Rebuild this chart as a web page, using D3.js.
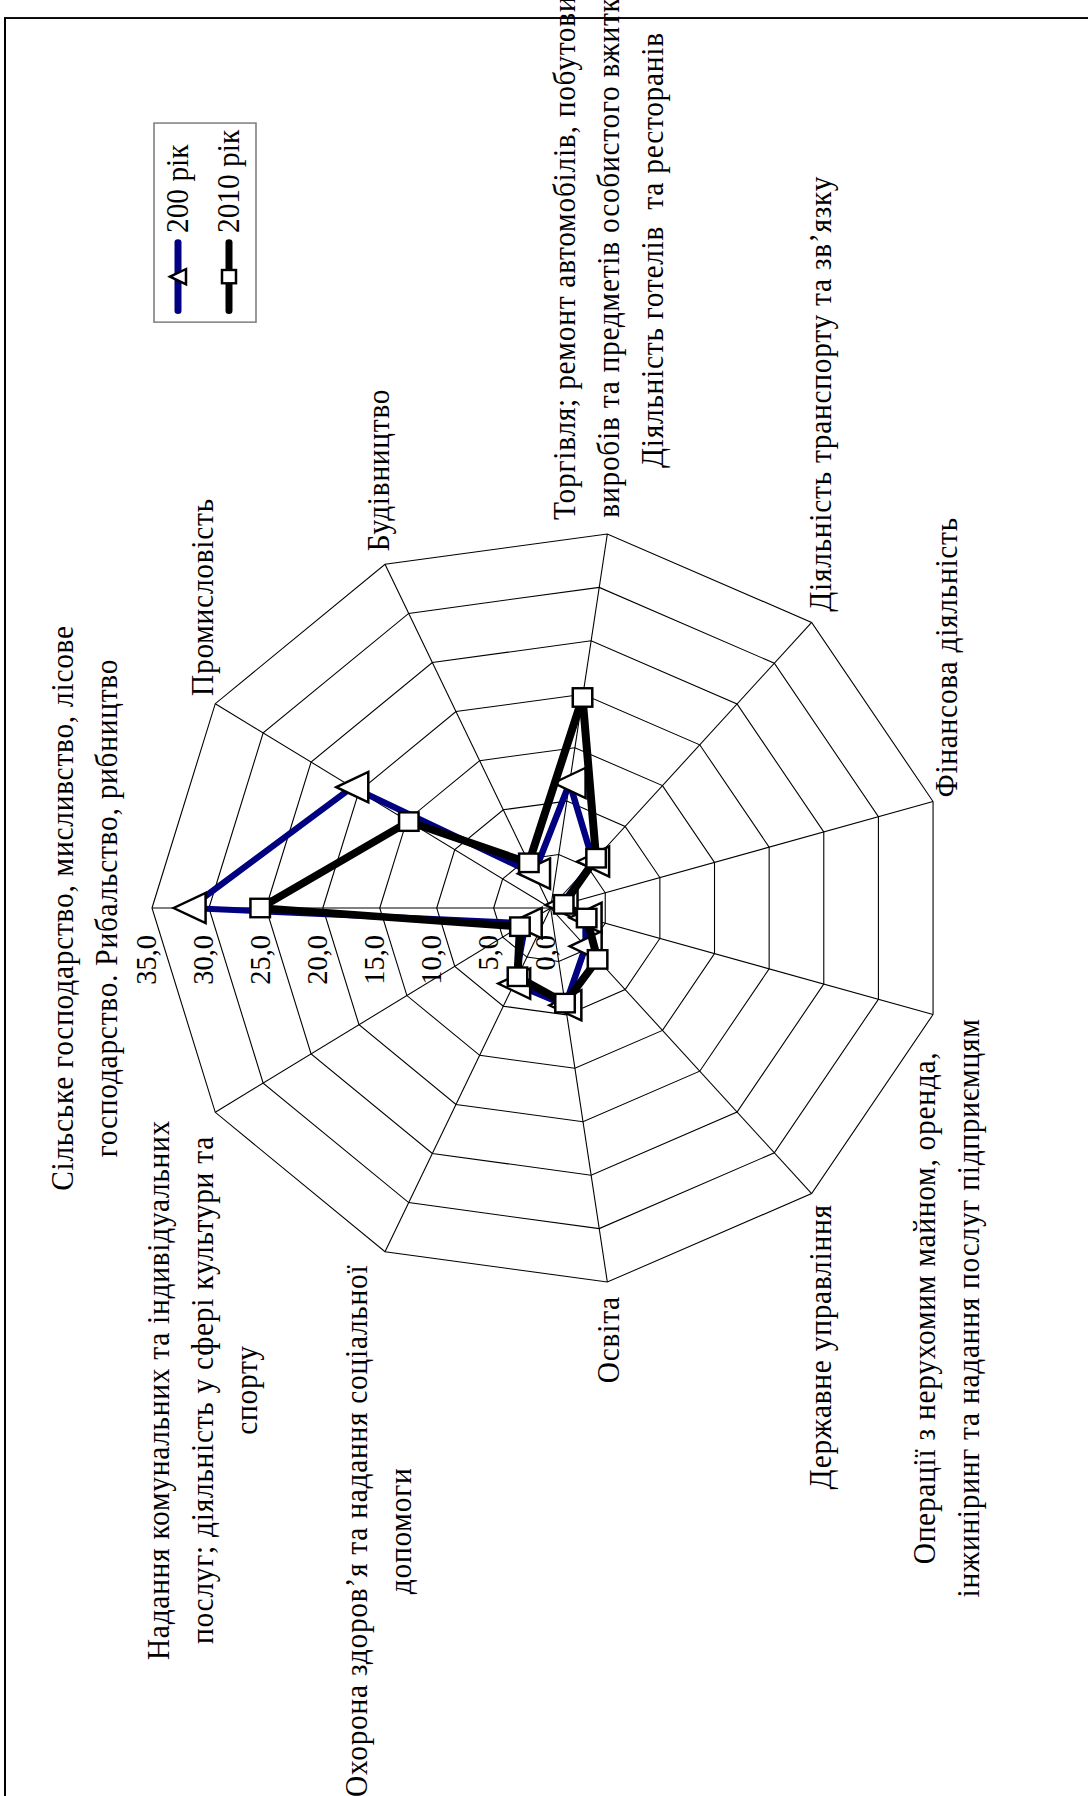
<!DOCTYPE html>
<html>
<head>
<meta charset="utf-8">
<script src="https://cdn.jsdelivr.net/npm/d3@7"></script>
<style>
  body { margin: 0; background: #fff; }
  text { font-family: "Liberation Serif", "Times New Roman", serif; fill: #000; white-space: pre; }
</style>
</head>
<body>
<svg id="chart" width="1088" height="1796"></svg>
<script>
const categories = [
  ["Сільське господарство, мисливство, лісове", "господарство. Рибальство, рибництво"],
  ["Промисловість"],
  ["Будівництво"],
  ["Торгівля; ремонт автомобілів, побутових", "виробів та предметів особистого вжитку", "Діяльність готелів  та ресторанів"],
  ["Діяльність транспорту та зв’язку"],
  ["Фінансова діяльність"],
  ["Операції з нерухомим майном, оренда,", "інжиніринг та надання послуг підприємцям"],
  ["Державне управління"],
  ["Освіта"],
  ["Охорона здоров’я та надання соціальної", "допомоги"],
  ["Надання комунальних та індивідуальних", "послуг; діяльність у сфері культури та", "спорту"]
];
const values2000 = [31.7, 20.7, 3.5, 11.7, 5.7, 1.0, 3.2, 4.7, 9.1, 7.7, 2.6];
const values2010 = [25.5, 14.8, 4.6, 19.7, 6.1, 1.2, 3.3, 6.3, 8.9, 7.0, 3.2];
const seriesNames = ["200 рік", "2010 рік"];
const ticks = [0, 5, 10, 15, 20, 25, 30, 35];
const tickLabels = ticks.map(t => t.toFixed(1).replace(".", ","));

const W = 1088, H = 1796;
const cx = 550.6, cy = 908, R = 398.6, squash = 0.948;

const svg = d3.select("#chart");
svg.append("rect").attr("width", W).attr("height", H).attr("fill", "#fff");

// the chart is drawn upright, then turned a quarter turn to the left
const g = svg.append("g")
  .attr("transform", `translate(${cx},${cy}) scale(1,${squash}) rotate(-90)`);

// chart border (only top and left edges are on the page)
g.append("rect")
  .attr("x", -1000).attr("y", -545.6).attr("width", 1938.8).attr("height", 1200)
  .attr("fill", "none").attr("stroke", "#000").attr("stroke-width", 2);

const n = categories.length;
const r = d3.scaleLinear().domain([0, 35]).range([0, R]);
const angle = i => i * 2 * Math.PI / n;
const pt = (i, v) => [r(v) * Math.sin(angle(i)), -r(v) * Math.cos(angle(i))];
const radial = d3.lineRadial()
  .angle((d, i) => angle(i))
  .radius(d => r(d))
  .curve(d3.curveLinearClosed);

// grid
const grid = g.append("g").attr("fill", "none").attr("stroke", "#000").attr("stroke-width", 1.1);
ticks.slice(1).forEach(t => grid.append("path").attr("d", radial(d3.range(n).map(() => t))));
d3.range(n).forEach(i => {
  const [x, y] = pt(i, 35);
  grid.append("line").attr("x1", 0).attr("y1", 0).attr("x2", x).attr("y2", y);
});

// value axis labels
g.append("g").selectAll("text").data(ticks).join("text")
  .attr("x", -28.5)
  .attr("y", d => -r(d) + 4)
  .attr("text-anchor", "end")
  .attr("font-size", 30)
  .text((d, i) => tickLabels[i]);

// category labels
const pad = 15, lineH = 44, fs = 31;
categories.forEach((lines, i) => {
  const s = Math.sin(angle(i)), c = Math.cos(angle(i));
  const [vx, vy] = pt(i, 35);
  const px = vx + pad * s, py = vy - pad * c;
  const t = g.append("text")
    .attr("font-size", fs)
    .attr("letter-spacing", 0.8)
    .attr("text-anchor", "middle");
  const spans = lines.map(l => t.append("tspan").text(l));
  const w = d3.max(spans, sp => sp.node().getComputedTextLength());
  const bx = s > 0.1 ? px + w / 2 : s < -0.1 ? px - w / 2 : px;
  const y0 = c > 0.9
    ? py - 20 - (lines.length - 1) * lineH
    : py - (lines.length - 1) * lineH / 2 + 10;
  spans.forEach((sp, k) => sp.attr("x", bx).attr("y", y0 + k * lineH));
});

// markers
const triangle = size => `M0,${-size / 2}L${size / 2},${size / 2}L${-size / 2},${size / 2}Z`;
function marker(sel, type, size) {
  if (type === "tri") {
    sel.append("path").attr("d", triangle(size));
  } else {
    sel.append("rect").attr("x", -size / 2).attr("y", -size / 2).attr("width", size).attr("height", size);
  }
  sel.attr("fill", "#fff").attr("stroke", "#000").attr("stroke-width", 2.5);
}

function drawSeries(values, color, width, type, size) {
  g.append("path")
    .attr("d", radial(values))
    .attr("fill", "none")
    .attr("stroke", color)
    .attr("stroke-width", width)
    .attr("stroke-linejoin", "round");
  values.forEach((v, i) => {
    const [x, y] = pt(i, v);
    marker(g.append("g").attr("transform", `translate(${x},${y})`), type, size);
  });
}

drawSeries(values2000, "#000080", 6.5, "tri", 32);
drawSeries(values2010, "#000", 8, "sq", 19.5);

// legend
const legend = g.append("g");
legend.append("rect")
  .attr("x", 618).attr("y", -396.6).attr("width", 210).attr("height", 102)
  .attr("fill", "#fff").attr("stroke", "#777").attr("stroke-width", 1.5);
const legendItems = [
  { name: seriesNames[0], color: "#000080", type: "tri", size: 16, y: -372.6 },
  { name: seriesNames[1], color: "#000", type: "sq", size: 14, y: -321.6 }
];
legendItems.forEach(d => {
  legend.append("line")
    .attr("x1", 630).attr("x2", 702).attr("y1", d.y).attr("y2", d.y)
    .attr("stroke", d.color).attr("stroke-width", 7).attr("stroke-linecap", "round");
  marker(legend.append("g").attr("transform", `translate(666,${d.y})`), d.type, d.size);
  legend.append("text")
    .attr("x", 712).attr("y", d.y + 10)
    .attr("font-size", fs)
    .text(d.name);
});
</script>
</body>
</html>
